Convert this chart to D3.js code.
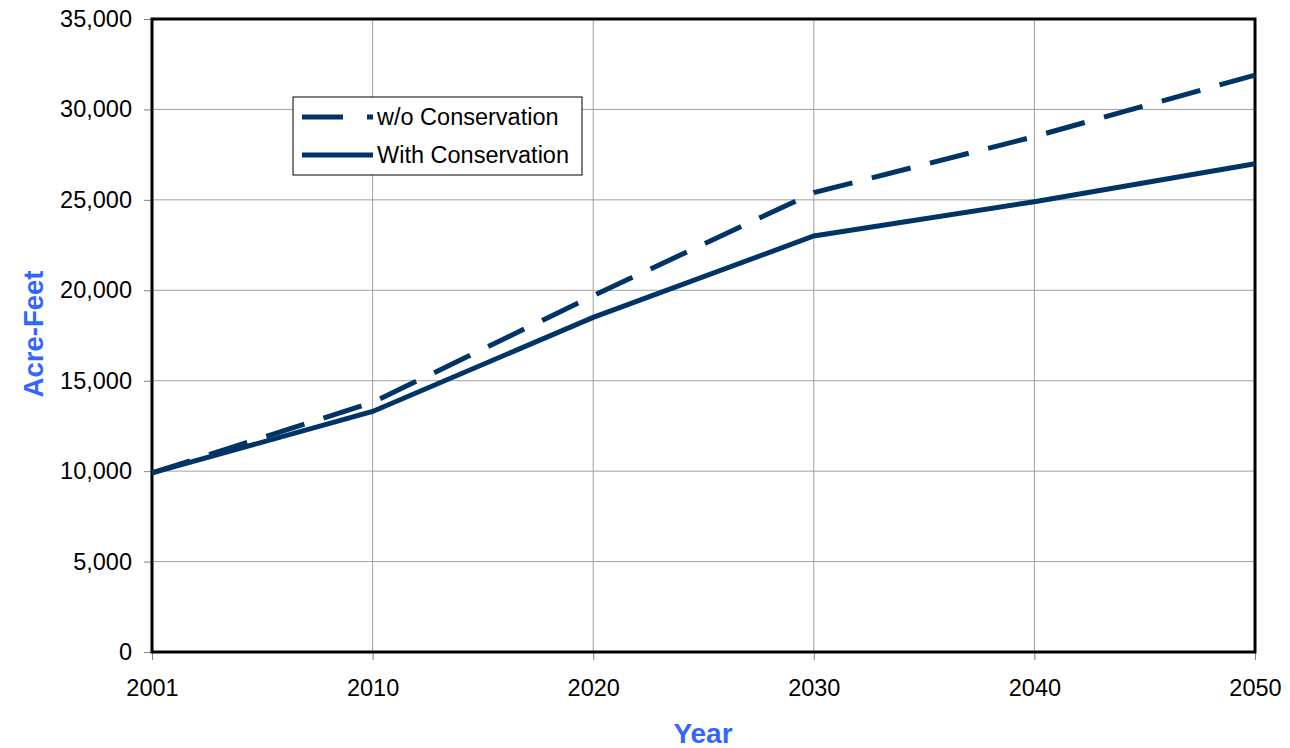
<!DOCTYPE html>
<html>
<head>
<meta charset="utf-8">
<script src="https://cdn.jsdelivr.net/npm/d3@7"></script>
<style>
  body { margin: 0; background: #fff; }
  text { font-family: "Liberation Sans", Arial, sans-serif; }
</style>
</head>
<body>
<div id="chart"></div>
<script>
// values
var years = ["2001", "2010", "2020", "2030", "2040", "2050"];
var withoutConservation = [9900, 13800, 19700, 25400, 28500, 31900];
var withConservation = [9900, 13300, 18500, 23000, 24900, 27000];
var yTicks = [0, 5000, 10000, 15000, 20000, 25000, 30000, 35000];
var seriesNames = ["w/o Conservation", "With Conservation"];

var chart_width = 1290, chart_height = 748;
var margin = { top: 19, right: 35, bottom: 96, left: 152 };
var width = chart_width - margin.left - margin.right;
var height = chart_height - margin.top - margin.bottom;
var lineColor = "#003366";

var svg = d3.select("#chart")
    .append("svg")
    .attr("width", chart_width)
    .attr("height", chart_height);

var plot = svg.append("g")
    .attr("transform", "translate(" + margin.left + "," + margin.top + ")");

var x = d3.scalePoint().domain(years).range([0, width]);
var y = d3.scaleLinear().domain([0, 35000]).range([height, 0]);

// gridlines
plot.append("g")
    .selectAll("line.h")
    .data(yTicks)
    .enter().append("line")
    .attr("x1", 0).attr("x2", width)
    .attr("y1", function (d) { return y(d); })
    .attr("y2", function (d) { return y(d); })
    .attr("stroke", "#a0a0a0")
    .attr("stroke-width", 1);

plot.append("g")
    .selectAll("line.v")
    .data(years)
    .enter().append("line")
    .attr("x1", function (d) { return x(d); })
    .attr("x2", function (d) { return x(d); })
    .attr("y1", 0).attr("y2", height)
    .attr("stroke", "#a0a0a0")
    .attr("stroke-width", 1);

// Y axis
var yAxis = d3.axisLeft(y)
    .tickValues(yTicks)
    .tickSize(8)
    .tickPadding(12)
    .tickFormat(d3.format(","));
var yg = plot.append("g").call(yAxis);
yg.select(".domain").remove();
yg.selectAll("line").attr("stroke", "#808080");
yg.selectAll("text")
    .style("font-size", "23.5px")
    .attr("fill", "#000");

// X axis
var xAxis = d3.axisBottom(x).tickSize(8).tickPadding(19);
var xg = plot.append("g")
    .attr("transform", "translate(0," + height + ")")
    .call(xAxis);
xg.select(".domain").remove();
xg.selectAll("line").attr("stroke", "#808080");
xg.selectAll("text")
    .style("font-size", "23.5px")
    .attr("fill", "#000");

// plot frame
plot.append("rect")
    .attr("x", 0).attr("y", 0)
    .attr("width", width).attr("height", height)
    .attr("fill", "none")
    .attr("stroke", "#000")
    .attr("stroke-width", 3);

// lines
var line = d3.line()
    .x(function (d, i) { return x(years[i]); })
    .y(function (d) { return y(d); });

plot.append("path")
    .datum(withConservation)
    .attr("d", line)
    .attr("fill", "none")
    .attr("stroke", lineColor)
    .attr("stroke-width", 5);

plot.append("path")
    .datum(withoutConservation)
    .attr("d", line)
    .attr("fill", "none")
    .attr("stroke", lineColor)
    .attr("stroke-width", 5)
    .attr("stroke-dasharray", "40,20");

// legend
var legend = svg.append("g").attr("transform", "translate(293,97)");
legend.append("rect")
    .attr("width", 289).attr("height", 78)
    .attr("fill", "#fff")
    .attr("stroke", "#000")
    .attr("stroke-width", 1);

seriesNames.forEach(function (name, i) {
    var ly = 20 + i * 38;
    legend.append("line")
        .attr("x1", 9).attr("x2", 80)
        .attr("y1", ly).attr("y2", ly)
        .attr("stroke", lineColor)
        .attr("stroke-width", 5)
        .attr("stroke-dasharray", i === 0 ? "41,24" : null);
    legend.append("text")
        .attr("x", 84).attr("y", ly)
        .attr("dy", "0.35em")
        .style("font-size", "23.5px")
        .text(name);
});

// axis titles
svg.append("text")
    .attr("transform", "translate(43,334) rotate(-90)")
    .attr("text-anchor", "middle")
    .style("font-size", "27.5px")
    .style("font-weight", "bold")
    .attr("fill", "#3366ff")
    .text("Acre-Feet");

svg.append("text")
    .attr("x", 703).attr("y", 743)
    .attr("text-anchor", "middle")
    .style("font-size", "28px")
    .style("font-weight", "bold")
    .attr("fill", "#3366ff")
    .text("Year");
</script>
</body>
</html>
